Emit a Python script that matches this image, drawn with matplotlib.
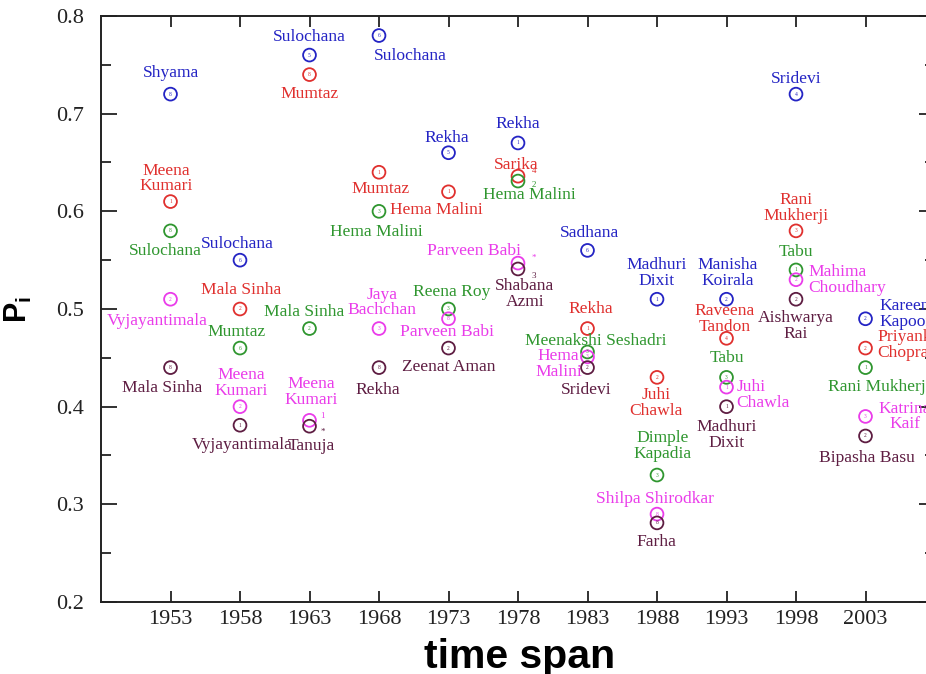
import matplotlib
matplotlib.use("Agg")
import matplotlib.pyplot as plt

# time spans on the x axis
years = [1953, 1958, 1963, 1968, 1973, 1978, 1983, 1988, 1993, 1998, 2003]

# rank 1 (blue)
names_1 = ["Shyama", "Sulochana", "Sulochana", "Sulochana", "Rekha", "Rekha",
           "Sadhana", "Madhuri\nDixit", "Manisha\nKoirala", "Sridevi", "Kareena\nKapoor"]
vals_1 = [0.72, 0.55, 0.76, 0.78, 0.66, 0.67, 0.56, 0.51, 0.51, 0.72, 0.49]
tags_1 = ["8", "6", "5", "6", "5", "1", "6", "1", "2", "4", "2"]

# rank 2 (red)
names_2 = ["Meena\nKumari", "Mala Sinha", "Mumtaz", "Mumtaz", "Hema Malini", "Sarika",
           "Rekha", "Juhi\nChawla", "Raveena\nTandon", "Rani\nMukherji", "Priyanka\nChopra"]
vals_2 = [0.61, 0.50, 0.74, 0.64, 0.62, 0.636, 0.48, 0.43, 0.47, 0.58, 0.46]
tags_2 = ["1", "2", "8", "1", "1", "", "1", "2", "4", "3", "2"]

# rank 3 (green)
names_3 = ["Sulochana", "Mumtaz", "Mala Sinha", "Hema Malini", "Reena Roy", "Hema Malini",
           "Meenakshi Seshadri", "Dimple\nKapadia", "Tabu", "Tabu", "Rani Mukherji"]
vals_3 = [0.58, 0.46, 0.48, 0.60, 0.50, 0.631, 0.456, 0.33, 0.43, 0.54, 0.44]
tags_3 = ["8", "6", "2", "3", "3", "", "3", "3", "3", "1", "1"]

# rank 4 (magenta)
names_4 = ["Vyjayantimala", "Meena\nKumari", "Meena\nKumari", "Jaya\nBachchan", "Parveen Babi",
           "Parveen Babi", "Hema\nMalini", "Shilpa Shirodkar", "Juhi\nChawla",
           "Mahima\nChoudhary", "Katrina\nKaif"]
vals_4 = [0.51, 0.40, 0.386, 0.48, 0.49, 0.547, 0.451, 0.29, 0.42, 0.53, 0.39]
tags_4 = ["2", "2", "", "3", "8", "", "3", "8", "1", "2", "3"]

# rank 5 (maroon)
names_5 = ["Mala Sinha", "Vyjayantimala", "Tanuja", "Rekha", "Zeenat Aman", "Shabana\nAzmi",
           "Sridevi", "Farha", "Madhuri\nDixit", "Aishwarya\nRai", "Bipasha Basu"]
vals_5 = [0.44, 0.381, 0.38, 0.44, 0.46, 0.541, 0.44, 0.281, 0.40, 0.51, 0.37]
tags_5 = ["8", "1", "", "8", "2", "", "2", "8", "1", "2", "2"]

colors = ["#2424c4", "#e0302e", "#2f962f", "#ea3cea", "#5e1d42"]

# label placement: (dx px, dy px, ha)
lay_1 = [(0, 21, "c"), (-3, 16, "c"), (0, 18, "c"), (31, -20, "c"), (-2, 15, "c"), (0, 19, "c"),
         (2, 17, "c"), (0, 26, "c"), (1, 26, "c"), (0, 15, "c"), (14, 5, "l")]
lay_2 = [(-4, 23, "c"), (1, 19, "c"), (0, -19, "c"), (2, -17, "c"), (-12, -18, "c"), (-2, 11, "c"),
         (3, 20, "c"), (-1, -26, "c"), (-2, 19, "c"), (0, 23, "c"), (12, 3, "l")]
lay_3 = [(-5, -20, "c"), (-3, 16, "c"), (-5, 17, "c"), (-3, -21, "c"), (3, 17, "c"), (11, -14, "c"),
         (8, 11, "c"), (6, 29, "c"), (1, 19, "c"), (0, 18, "c"), (14, -19, "c")]
lay_4 = [(-13, -22, "c"), (1, 24, "c"), (2, 28, "c"), (3, 26, "c"), (-1, -13, "c"), (-44, 12, "c"),
         (-29, -7, "c"), (-2, 15, "c"), (10, -8, "l"), (12, 0, "l"), (13, 0, "lc")]
lay_5 = [(-8, -20, "c"), (2, -20, "c"), (2, -20, "c"), (-1, -22, "c"), (0, -19, "c"), (7, -25, "c"),
         (-1, -22, "c"), (-1, -19, "c"), (0, -28, "c"), (0, -27, "c"), (1, -22, "c")]

# small side marks next to overlapping circles: (series, year, text, dx, dy)
side_marks = [(3, 1963, "1", 13, 4), (4, 1963, "*", 13, -6),
              (1, 1978, "4", 16, 5), (2, 1978, "2", 16, -4),
              (3, 1978, "*", 16, 5), (4, 1978, "3", 16, -7)]

serif = ["Liberation Serif", "DejaVu Serif"]
sans = ["Liberation Sans", "DejaVu Sans"]
plt.rcParams["mathtext.fontset"] = "custom"
plt.rcParams["mathtext.rm"] = "Liberation Sans:bold"
plt.rcParams["mathtext.bf"] = "Liberation Sans:bold"
plt.rcParams["mathtext.it"] = "Liberation Sans:bold"

fig = plt.figure(figsize=(9.26, 6.74), dpi=100)
ax = fig.add_axes([101 / 926, 72 / 674, 834 / 926, 586 / 674])

series = [
    (names_1, vals_1, tags_1, lay_1),
    (names_2, vals_2, tags_2, lay_2),
    (names_3, vals_3, tags_3, lay_3),
    (names_4, vals_4, tags_4, lay_4),
    (names_5, vals_5, tags_5, lay_5),
]

for k, (names, vals, tags, lay) in enumerate(series):
    col = colors[k]
    ax.scatter(years, vals, s=85, facecolors="none", edgecolors=col,
               linewidths=1.3, zorder=3, clip_on=False)
    for yr, v, nm, tg, (dx, dy, ha) in zip(years, vals, names, tags, lay):
        if tg:
            ax.text(yr, v, tg, color=col, fontsize=4, ha="center", va="center",
                    family=serif, zorder=4)
        align = "left" if ha.startswith("l") else "center"
        malign = "center" if ha in ("c", "lc") else "left"
        ax.annotate(nm, (yr, v), xytext=(dx, dy), textcoords="offset pixels",
                    ha=align, va="center", multialignment=malign,
                    color=col, fontsize=12.6, family=serif, linespacing=0.98,
                    annotation_clip=False)

for k, yr, txt, dx, dy in side_marks:
    v = series[k][1][years.index(yr)]
    ax.annotate(txt, (yr, v), xytext=(dx, dy), textcoords="offset pixels",
                ha="center", va="center", color=colors[k], fontsize=6.5, family=serif)

ax.set_xlim(1948, 2008)
ax.set_ylim(0.2, 0.8)
ax.set_xticks(years)
ax.set_yticks([0.2, 0.3, 0.4, 0.5, 0.6, 0.7, 0.8])
ax.set_yticks([0.25, 0.35, 0.45, 0.55, 0.65, 0.75], minor=True)
ax.set_yticklabels(["0.2", "0.3", "0.4", "0.5", "0.6", "0.7", "0.8"])

ax.tick_params(axis="both", which="both", direction="in", top=True, right=True,
               width=1.3, colors="#222222")
ax.tick_params(axis="x", which="major", length=8, pad=6)
ax.tick_params(axis="y", which="major", length=11.5, pad=12)
ax.tick_params(axis="y", which="minor", length=7)
for lab in ax.get_xticklabels() + ax.get_yticklabels():
    lab.set_family(serif)
    lab.set_fontsize(16)
    lab.set_color("#222222")

for sp in ax.spines.values():
    sp.set_linewidth(1.4)
    sp.set_color("#222222")

ax.set_xlabel("time span", fontsize=29.5, fontweight="bold", family=sans)
ax.xaxis.set_label_coords(0.5015, -0.061)
ax.set_ylabel(r"$\mathrm{P}_{\mathrm{i}}$", fontsize=22)
ax.yaxis.set_label_coords(-0.08, 0.5)

fig.savefig("out.png", dpi=100)
